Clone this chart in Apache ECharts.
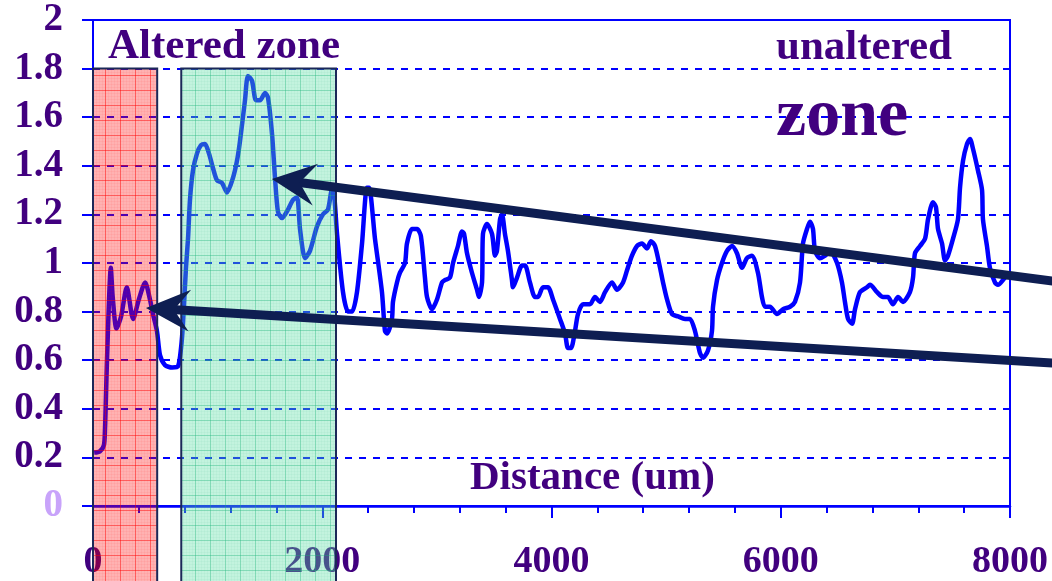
<!DOCTYPE html>
<html>
<head>
<meta charset="utf-8">
<script src="https://cdn.jsdelivr.net/npm/echarts@6/dist/echarts.min.js"></script>
<style>
  html, body { margin: 0; padding: 0; background: #ffffff; }
  #chart { width: 1052px; height: 581px; }
</style>
</head>
<body>
<div id="chart"></div>
<script>
// Profile along the traverse: distance (um) and measured value
const distanceUm = [
  10, 60, 95, 105, 113, 122, 140, 155, 172, 205, 245, 295, 350, 400, 455, 497, 523, 558, 585, 628,
  690, 742, 768, 785, 811, 829, 846, 872, 907, 942, 977, 1012, 1047, 1082, 1125, 1169, 1221, 1256, 1282, 1326,
  1352, 1387, 1422, 1457, 1501, 1527, 1562, 1588, 1614, 1649, 1701, 1745, 1780, 1806, 1850, 1893, 1954, 2006, 2050, 2085,
  2102, 2129, 2181, 2225, 2260, 2303, 2347, 2390, 2408, 2460, 2521, 2547, 2565, 2608, 2617, 2652, 2678, 2722, 2739, 2783,
  2827, 2861, 2896, 2914, 2957, 3001, 3045, 3071, 3114, 3141, 3184, 3219, 3237, 3263, 3306, 3350, 3367, 3394, 3402, 3437,
  3481, 3507, 3524, 3551, 3568, 3594, 3620, 3655, 3664, 3699, 3743, 3769, 3812, 3856, 3882, 3926, 3969, 4013, 4074, 4118,
  4144, 4170, 4205, 4231, 4275, 4336, 4379, 4423, 4467, 4528, 4571, 4624, 4659, 4702, 4746, 4790, 4833, 4868, 4903, 4947,
  4973, 5008, 5051, 5104, 5165, 5208, 5252, 5295, 5322, 5365, 5400, 5409, 5444, 5487, 5531, 5575, 5618, 5662, 5705, 5749,
  5801, 5836, 5862, 5906, 5967, 6020, 6081, 6124, 6168, 6194, 6229, 6255, 6281, 6299, 6342, 6386, 6430, 6491, 6534, 6560,
  6587, 6622, 6648, 6691, 6752, 6778, 6840, 6892, 6935, 6979, 7023, 7066, 7127, 7154, 7171, 7215, 7259, 7285, 7328, 7354,
  7372, 7407, 7433, 7459, 7503, 7546, 7564, 7590, 7625, 7651, 7677, 7721, 7756, 7764, 7799, 7825, 7869, 7895, 7956, 8000
];
const profileValue = [
  0.22, 0.225, 0.25, 0.32, 0.45, 0.6, 0.85, 0.98, 0.86, 0.73, 0.78, 0.9, 0.77, 0.85, 0.92, 0.85, 0.79, 0.72, 0.62, 0.58,
  0.57, 0.575, 0.65, 0.75, 0.98, 1.1, 1.26, 1.38, 1.45, 1.485, 1.49, 1.45, 1.39, 1.34, 1.33, 1.29, 1.35, 1.42, 1.5, 1.67,
  1.77, 1.75, 1.67, 1.67, 1.7, 1.68, 1.53, 1.35, 1.21, 1.185, 1.22, 1.26, 1.27, 1.14, 1.02, 1.05, 1.15, 1.2, 1.22, 1.3,
  1.29, 1.12, 0.88, 0.8, 0.8, 0.88, 1.08, 1.31, 1.31, 1.1, 0.88, 0.72, 0.71, 0.77, 0.84, 0.92, 0.96, 1.0, 1.08, 1.14,
  1.14, 1.11, 0.94, 0.86, 0.81, 0.85, 0.92, 0.93, 0.94, 1.0, 1.07, 1.13, 1.12, 1.04, 0.96, 0.89, 0.86, 0.92, 1.12, 1.16,
  1.12, 1.03, 1.05, 1.18, 1.2, 1.12, 1.05, 0.93, 0.9, 0.94, 0.99, 0.99, 0.92, 0.86, 0.86, 0.9, 0.9, 0.85, 0.77, 0.71,
  0.65, 0.65, 0.72, 0.79, 0.83, 0.83, 0.86, 0.84, 0.88, 0.92, 0.89, 0.92, 0.97, 1.03, 1.07, 1.08, 1.06, 1.09, 1.07, 0.98,
  0.92, 0.85, 0.79, 0.78, 0.77, 0.77, 0.72, 0.63, 0.61, 0.64, 0.72, 0.82, 0.93, 1.0, 1.05, 1.07, 1.04, 0.98, 1.02, 1.03,
  0.96, 0.86, 0.82, 0.82, 0.79, 0.81, 0.82, 0.84, 0.92, 1.08, 1.14, 1.17, 1.14, 1.05, 1.02, 1.03, 1.05, 1.0, 0.92, 0.84,
  0.77, 0.75, 0.81, 0.88, 0.9, 0.91, 0.88, 0.86, 0.86, 0.83, 0.86, 0.84, 0.88, 0.94, 1.04, 1.07, 1.1, 1.18, 1.25, 1.23,
  1.14, 1.08, 1.01, 1.03, 1.1, 1.18, 1.31, 1.42, 1.49, 1.51, 1.47, 1.38, 1.3, 1.18, 1.07, 0.98, 0.92, 0.91, 0.94, 0.96
];

// Shaded zones (distance range and top value)
const zoneStartUm = [0, 770];
const zoneEndUm = [560, 2120];
const zoneTopValue = [1.8, 1.8];

// Trend arrows: tip and tail in data units
const arrowTipUm = [1560, 462];
const arrowTipValue = [1.346, 0.815];
const arrowTailUm = [8800, 8800];
const arrowTailValue = [0.899, 0.576];

// Axis ranges
const xMin = 0, xMax = 8000, xStep = 2000;
const yMin = 0, yMax = 2, yStep = 0.2;

const serif = '"Liberation Serif", "Times New Roman", "DejaVu Serif", serif';
const purple = '#41007f';
const blue = '#0000ff';
const navy = '#0e1e52';

// Graph-paper fills for the zones
function makeGridPattern(base, major, minor) {
  const size = 30;
  const c = document.createElement('canvas');
  c.width = size; c.height = size;
  const g = c.getContext('2d');
  g.fillStyle = base;
  g.fillRect(0, 0, size, size);
  g.fillStyle = minor;
  for (let i = 0; i < size; i += 3) {
    g.fillRect(i, 0, 1, size);
    g.fillRect(0, i, size, 1);
  }
  g.fillStyle = major;
  g.fillRect(0, 0, 1, size);
  g.fillRect(15, 0, 1, size);
  g.fillRect(0, 0, size, 1);
  g.fillRect(0, 15, size, 1);
  return c;
}
const zonePatterns = [
  makeGridPattern('rgba(255,0,0,0.30)', 'rgba(255,0,0,0.45)', 'rgba(255,0,0,0.05)'),
  makeGridPattern('rgba(89,222,164,0.36)', 'rgba(30,180,120,0.35)', 'rgba(30,180,120,0.05)')
];

const lineData = distanceUm.map((d, i) => [d, profileValue[i]]);
const zoneData = zoneStartUm.map((s, i) => [s, zoneEndUm[i], zoneTopValue[i]]);
const arrowData = arrowTipUm.map((x, i) => [x, arrowTipValue[i], arrowTailUm[i], arrowTailValue[i]]);

const chart = echarts.init(document.getElementById('chart'), null, { renderer: 'canvas' });

chart.setOption({
  animation: false,
  backgroundColor: '#ffffff',
  grid: {
    left: 93, right: 42, top: 20, bottom: 75,
    show: true,
    borderColor: blue,
    borderWidth: 2,
    backgroundColor: 'transparent'
  },
  xAxis: {
    type: 'value',
    min: xMin, max: xMax, interval: xStep,
    axisLine: { show: true, onZero: false, lineStyle: { color: blue, width: 2.5 } },
    axisTick: { show: true, inside: false, length: 12, lineStyle: { color: blue, width: 2 } },
    minorTick: { show: true, splitNumber: 5, length: 7, lineStyle: { color: blue, width: 2 } },
    splitLine: { show: false },
    axisLabel: {
      margin: 37,
      color: purple,
      fontFamily: serif,
      fontWeight: 'bold',
      fontSize: 38,
      formatter: (v) => String(Math.round(Number(v)))
    }
  },
  yAxis: {
    type: 'value',
    min: yMin, max: yMax, interval: yStep,
    axisLine: { show: true, lineStyle: { color: blue, width: 2 } },
    axisTick: { show: true, inside: false, length: 11, lineStyle: { color: blue, width: 2 } },
    splitLine: { show: true, lineStyle: { color: blue, width: 2, type: [7, 7] } },
    axisLabel: {
      margin: 30,
      fontFamily: serif,
      fontWeight: 'bold',
      fontSize: 39,
      color: (v) => (Number(v) === 0 ? '#c8a3fa' : purple),
      formatter: (v) => String(+Number(v).toFixed(1))
    }
  },
  series: [
    {
      type: 'line',
      data: lineData,
      showSymbol: false,
      smooth: 0.25,
      z: 2,
      lineStyle: { color: blue, width: 4.5 }
    },
    {
      type: 'custom',
      clip: false,
      z: 3,
      data: zoneData,
      encode: { x: [0, 1], y: 2 },
      renderItem: (params, api) => {
        const a = api.coord([api.value(0), api.value(2)]);
        const b = api.coord([api.value(1), api.value(2)]);
        const h = api.getHeight();
        return {
          type: 'rect',
          shape: { x: a[0], y: a[1], width: b[0] - a[0], height: h - a[1] + 4 },
          style: {
            fill: { image: zonePatterns[params.dataIndex], repeat: 'repeat' },
            stroke: '#1b2858',
            lineWidth: 2
          }
        };
      }
    },
    {
      type: 'custom',
      clip: false,
      z: 4,
      data: arrowData,
      encode: { x: [0, 2], y: [1, 3] },
      renderItem: (params, api) => {
        const tip = api.coord([api.value(0), api.value(1)]);
        const tail = api.coord([api.value(2), api.value(3)]);
        const dx = tail[0] - tip[0], dy = tail[1] - tip[1];
        const len = Math.hypot(dx, dy);
        const ux = dx / len, uy = dy / len, nx = -uy, ny = ux;
        const pt = (along, side) => [tip[0] + ux * along + nx * side, tip[1] + uy * along + ny * side];
        const shaftStart = pt(26, 0);
        return {
          type: 'group',
          children: [
            {
              type: 'line',
              shape: { x1: shaftStart[0], y1: shaftStart[1], x2: tail[0], y2: tail[1] },
              style: { stroke: navy, lineWidth: 9 }
            },
            {
              type: 'polygon',
              shape: { points: [pt(0, 0), pt(44, -21), pt(28, 0), pt(44, 21)] },
              style: { fill: navy }
            }
          ]
        };
      }
    }
  ],
  graphic: [
    {
      type: 'text', x: 108, y: 47, z: 10,
      style: { text: 'Altered zone', fill: purple, font: 'bold 43px ' + serif, textAlign: 'left', textVerticalAlign: 'middle' }
    },
    {
      type: 'text', x: 776, y: 48, z: 10,
      style: { text: 'unaltered', fill: purple, font: 'bold 43px ' + serif, textAlign: 'left', textVerticalAlign: 'middle' }
    },
    {
      type: 'text', x: 776, y: 117, z: 10,
      style: { text: 'zone', fill: purple, font: 'bold 68px ' + serif, textAlign: 'left', textVerticalAlign: 'middle' }
    },
    {
      type: 'text', x: 470, y: 478, z: 10,
      style: { text: 'Distance (um)', fill: purple, font: 'bold 41px ' + serif, textAlign: 'left', textVerticalAlign: 'middle' }
    }
  ]
});
</script>
</body>
</html>
